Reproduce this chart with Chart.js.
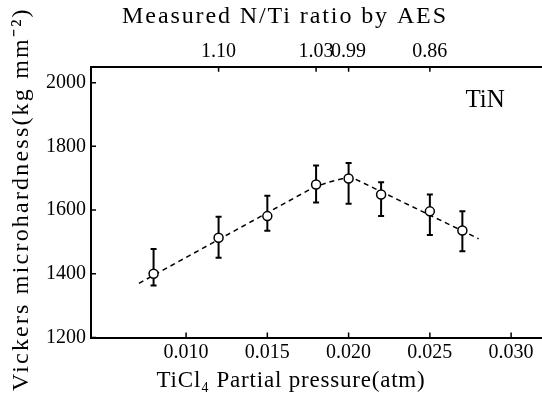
<!DOCTYPE html>
<html>
<head>
<meta charset="utf-8">
<script src="https://cdn.jsdelivr.net/npm/chart.js@4.4.1/dist/chart.umd.min.js"></script>
<style>
  html, body { margin: 0; padding: 0; background: #fff; }
  #wrap { width: 542px; height: 400px; }
</style>
</head>
<body>
<div id="wrap"><canvas id="chart_tinHardness"></canvas></div>
<script>
// TiCl4 partial pressure (atm) and measured hardness with error range
var pressure = [0.008, 0.012, 0.015, 0.018, 0.020, 0.022, 0.025, 0.027];
var hardness = [1400, 1513, 1581, 1680, 1699, 1649, 1596, 1536];
var errHigh  = [1478, 1579, 1645, 1740, 1748, 1687, 1649, 1596];
var errLow   = [1363, 1450, 1535, 1624, 1620, 1581, 1522, 1471];

// dashed guide curve
var fitX = [0.0071, 0.0178, 0.0188, 0.0196, 0.0203, 0.0280];
var fitY = [1370, 1670, 1688, 1698, 1700, 1510];

var xTicks = [0.010, 0.015, 0.020, 0.025, 0.030];
var yTicks = [1200, 1400, 1600, 1800, 2000];
// top axis: N/Ti ratio measured by AES
var topTicks  = [0.012, 0.018, 0.020, 0.025];
var topLabels = ['1.10', '1.03', '0.99', '0.86'];

var serif = "'Liberation Serif', 'Times New Roman', serif";

var inwardTicks = {
  id: 'inwardTicks',
  afterDraw: function(chart) {
    var ctx = chart.ctx, a = chart.chartArea, s = chart.scales;
    ctx.save();
    ctx.strokeStyle = '#000';
    ctx.lineWidth = 1.5;
    ctx.beginPath();
    s.x.ticks.forEach(function(t) {
      var px = s.x.getPixelForValue(t.value);
      ctx.moveTo(px, a.bottom); ctx.lineTo(px, a.bottom - 5);
    });
    s.x2.ticks.forEach(function(t) {
      var px = s.x2.getPixelForValue(t.value);
      ctx.moveTo(px, a.top); ctx.lineTo(px, a.top + 5);
    });
    s.y.ticks.forEach(function(t) {
      var py = s.y.getPixelForValue(t.value);
      ctx.moveTo(a.left, py); ctx.lineTo(a.left + 5, py);
    });
    ctx.stroke();
    ctx.restore();
  }
};

var errorBars = {
  id: 'errorBars',
  beforeDatasetsDraw: function(chart) {
    var ctx = chart.ctx, x = chart.scales.x, y = chart.scales.y;
    ctx.save();
    ctx.strokeStyle = '#000';
    ctx.lineWidth = 2;
    pressure.forEach(function(p, i) {
      var px = x.getPixelForValue(p);
      var top = y.getPixelForValue(errHigh[i]);
      var bot = y.getPixelForValue(errLow[i]);
      ctx.beginPath();
      ctx.moveTo(px, top); ctx.lineTo(px, bot);
      ctx.moveTo(px - 3, top); ctx.lineTo(px + 3, top);
      ctx.moveTo(px - 3, bot); ctx.lineTo(px + 3, bot);
      ctx.stroke();
    });
    ctx.restore();
  }
};

var captions = {
  id: 'captions',
  afterDraw: function(chart) {
    var ctx = chart.ctx, a = chart.chartArea;
    ctx.save();
    ctx.fillStyle = '#000';
    ctx.textAlign = 'center';
    ctx.textBaseline = 'middle';

    ctx.font = '24px ' + serif;
    ctx.letterSpacing = '1.9px';
    ctx.fillText('Measured N/Ti ratio by AES', a.left + 194, a.top - 50);

    ctx.font = '23px ' + serif;
    ctx.letterSpacing = '0.8px';
    ctx.fillText('TiCl\u2084 Partial pressure(atm)', a.left + 200, a.bottom + 43);

    ctx.save();
    ctx.font = '24px ' + serif;
    ctx.letterSpacing = '2.2px';
    ctx.translate(a.left - 69, (a.top + a.bottom) / 2 - 3);
    ctx.rotate(-Math.PI / 2);
    ctx.fillText('Vickers microhardness(kg mm\u207B\u00B2)', 0, 0);
    ctx.restore();

    ctx.letterSpacing = '0px';
    ctx.font = '25px ' + serif;
    ctx.fillText('TiN', chart.scales.x.getPixelForValue(0.0284), chart.scales.y.getPixelForValue(1943));
    ctx.restore();
  }
};

var tickFont = { family: serif, size: 20 };

function noSidePadding(scale) {
  scale.paddingLeft = 0;
  scale.paddingRight = 0;
}

var chart_tinHardness = new Chart(document.getElementById('chart_tinHardness'), {
  type: 'line',
  data: {
    datasets: [
      {
        label: 'TiN',
        data: pressure.map(function(p, i) { return { x: p, y: hardness[i] }; }),
        showLine: false,
        pointRadius: 4.5,
        pointBorderWidth: 1.5,
        pointBackgroundColor: '#fff',
        pointBorderColor: '#000'
      },
      {
        label: 'fit',
        data: fitX.map(function(v, i) { return { x: v, y: fitY[i] }; }),
        borderColor: '#000',
        borderWidth: 1.5,
        borderDash: [5, 4],
        tension: 0,
        pointRadius: 0,
        fill: false
      }
    ]
  },
  options: {
    animation: false,
    responsive: true,
    maintainAspectRatio: false,
    layout: { padding: 0, autoPadding: false },
    plugins: {
      legend: { display: false },
      tooltip: { enabled: false }
    },
    scales: {
      x: {
        type: 'linear',
        position: 'bottom',
        min: 0.00415,
        max: 0.0319,
        afterBuildTicks: function(scale) { scale.ticks = xTicks.map(function(v) { return { value: v }; }); },
        afterFit: function(scale) { scale.height = 62.5; noSidePadding(scale); },
        ticks: {
          callback: function(v) { return v.toFixed(3); },
          font: tickFont,
          color: '#000',
          padding: 3,
          maxRotation: 0,
          autoSkip: false
        },
        grid: { display: false, drawTicks: false },
        border: { display: true, color: '#000', width: 2 }
      },
      x2: {
        type: 'linear',
        position: 'top',
        min: 0.00415,
        max: 0.0319,
        afterBuildTicks: function(scale) { scale.ticks = topTicks.map(function(v) { return { value: v }; }); },
        afterFit: function(scale) { scale.height = 66.7; noSidePadding(scale); },
        ticks: {
          callback: function(v, i) { return topLabels[i]; },
          font: tickFont,
          color: '#000',
          padding: 3,
          maxRotation: 0,
          autoSkip: false
        },
        grid: { display: false, drawTicks: false },
        border: { display: true, color: '#000', width: 2 }
      },
      y: {
        type: 'linear',
        min: 1200,
        max: 2050,
        afterBuildTicks: function(scale) { scale.ticks = yTicks.map(function(v) { return { value: v }; }); },
        afterFit: function(scale) { scale.width = 91; },
        ticks: {
          callback: function(v) { return String(v); },
          font: tickFont,
          color: '#000',
          padding: 5
        },
        grid: { display: false, drawTicks: false },
        border: { display: true, color: '#000', width: 2 }
      }
    }
  },
  plugins: [errorBars, inwardTicks, captions]
});
</script>
</body>
</html>
